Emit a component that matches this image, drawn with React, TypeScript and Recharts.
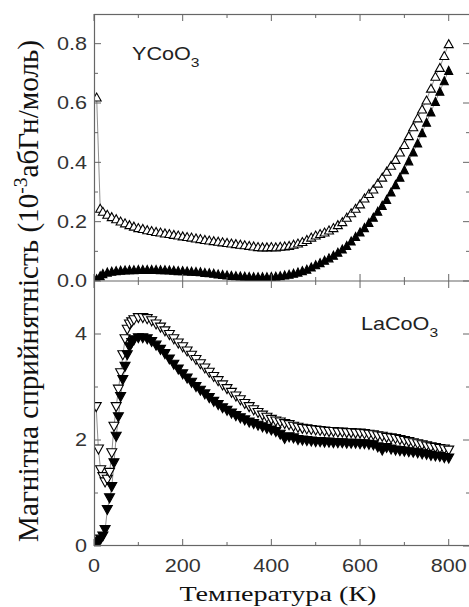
import React from 'react';
import { LineChart, Line, XAxis, YAxis } from 'recharts';

// --- data ---
// YCoO3 (top panel)
const tempTop = [
  6, 14, 20, 30, 40, 50, 60, 70, 80, 90,
  100, 110, 120, 130, 140, 150, 160, 170, 180, 190,
  200, 210, 220, 230, 240, 250, 260, 270, 280, 290,
  300, 310, 320, 330, 340, 350, 360, 370, 380, 390,
  400, 410, 420, 430, 440, 450, 460, 470, 480, 490,
  500, 510, 520, 530, 540, 550, 560, 570, 580, 590,
  600, 610, 620, 630, 640, 650, 660, 670, 680, 690,
  700, 710, 720, 730, 740, 750, 760, 770, 780, 790,
  800,
];
const yHollow = [
  0.62, 0.245, 0.235, 0.225, 0.217, 0.21, 0.202, 0.196, 0.19, 0.185,
  0.18, 0.177, 0.173, 0.17, 0.167, 0.165, 0.162, 0.16, 0.157, 0.155,
  0.152, 0.15, 0.148, 0.145, 0.143, 0.14, 0.138, 0.136, 0.134, 0.132,
  0.13, 0.128, 0.126, 0.124, 0.122, 0.12, 0.118, 0.116, 0.115, 0.115,
  0.116, 0.115, 0.117, 0.118, 0.12, 0.124, 0.128, 0.133, 0.14, 0.148,
  0.155, 0.16, 0.165, 0.172, 0.18, 0.19, 0.2, 0.215, 0.23, 0.245,
  0.26, 0.28, 0.295, 0.31, 0.33, 0.35, 0.37, 0.39, 0.41, 0.435,
  0.46, 0.49, 0.52, 0.55, 0.58, 0.61, 0.65, 0.69, 0.72, 0.76,
  0.8,
];
const yFilled = [
  0.008, 0.018, 0.025, 0.03, 0.033, 0.035, 0.036, 0.037, 0.038, 0.038,
  0.039, 0.039, 0.039, 0.039, 0.039, 0.038, 0.038, 0.037, 0.036, 0.035,
  0.035, 0.034, 0.033, 0.032, 0.031, 0.029, 0.028, 0.026, 0.024, 0.022,
  0.02, 0.019, 0.018, 0.017, 0.016, 0.015, 0.014, 0.014, 0.014, 0.014,
  0.015, 0.016, 0.018, 0.02, 0.023, 0.026, 0.03, 0.035, 0.04, 0.047,
  0.055, 0.062, 0.07, 0.078, 0.087, 0.097, 0.108, 0.12, 0.135, 0.15,
  0.165, 0.18, 0.197, 0.215, 0.235, 0.255, 0.275, 0.3, 0.325, 0.35,
  0.375, 0.405, 0.435, 0.465, 0.5, 0.535, 0.57, 0.605, 0.64, 0.675,
  0.71,
];

// LaCoO3 (bottom panel)
const tempBottom = [
  5, 10, 15, 20, 25, 30, 35, 40, 45, 50, 55, 60, 65, 70, 75, 80, 85, 90,
  100, 110, 120, 130, 140, 150, 160, 170, 180, 190,
  200, 210, 220, 230, 240, 250, 260, 270, 280, 290,
  300, 310, 320, 330, 340, 350, 360, 370, 380, 390,
  400, 410, 420, 430, 440, 450, 460, 470, 480, 490,
  500, 510, 520, 530, 540, 550, 560, 570, 580, 590,
  600, 610, 620, 630, 640, 650, 660, 670, 680, 690,
  700, 710, 720, 730, 740, 750, 760, 770, 780, 790,
  800,
];
const laHollow = [
  2.62, 1.82, 1.43, 1.3, 1.2, 1.25, 1.38, 1.75, 2.25, 2.62, 2.95, 3.26, 3.6, 3.9, 4.08, 4.18, 4.22, 4.26,
  4.3, 4.3, 4.28, 4.24, 4.18, 4.12, 4.05, 3.98, 3.9, 3.82,
  3.75, 3.67, 3.59, 3.51, 3.43, 3.35, 3.27, 3.19, 3.11, 3.03,
  2.96, 2.89, 2.82, 2.75, 2.68, 2.62, 2.56, 2.51, 2.46, 2.42,
  2.38, 2.35, 2.33, 2.3, 2.28, 2.25, 2.23, 2.21, 2.2, 2.19,
  2.18, 2.17, 2.16, 2.15, 2.15, 2.14, 2.14, 2.13, 2.13, 2.12,
  2.12, 2.11, 2.1, 2.09, 2.07, 2.06, 2.04, 2.03, 2.02, 2.0,
  1.98, 1.96, 1.94, 1.92, 1.9, 1.88, 1.86, 1.85, 1.83, 1.82,
  1.8,
];
const laFilled = [
  0.05, 0.08, 0.12, 0.18, 0.3, 0.68, 0.9, 1.11, 1.56, 2.06, 2.43, 2.81, 3.13, 3.38, 3.6, 3.75, 3.83, 3.88,
  3.92, 3.92, 3.9, 3.85, 3.78, 3.7, 3.62, 3.52, 3.42, 3.33,
  3.24, 3.16, 3.08, 3.0, 2.93, 2.86, 2.79, 2.72, 2.66, 2.6,
  2.55, 2.5, 2.45, 2.41, 2.37, 2.33, 2.3, 2.27, 2.24, 2.21,
  2.18, 2.15, 2.1, 2.02, 2.05, 2.03, 2.0, 1.99, 1.98, 1.97,
  1.96, 1.96, 1.95, 1.95, 1.94, 1.94, 1.94, 1.93, 1.93, 1.93,
  1.92, 1.92, 1.91, 1.9, 1.86, 1.8, 1.85, 1.82, 1.8, 1.79,
  1.78, 1.77, 1.76, 1.75, 1.73, 1.72, 1.7, 1.69, 1.68, 1.66,
  1.65,
];

// ticks
const xTicks = [0, 100, 200, 300, 400, 500, 600, 700, 800];
const xMajor = [0, 200, 400, 600, 800];
const topYTicks = [0, 0.1, 0.2, 0.3, 0.4, 0.5, 0.6, 0.7, 0.8];
const topYMajor = [0, 0.2, 0.4, 0.6, 0.8];
const botYTicks = [0, 1, 2, 3, 4];
const botYMajor = [0, 2, 4];

const topRows = tempTop.map((t, i) => ({ t, hollow: yHollow[i], filled: yFilled[i] }));
const botRows = tempBottom.map((t, i) => ({ t, hollow: laHollow[i], filled: laFilled[i] }));

const X_MAX = 848;
const PLOT_W = 376;
const TOP_H = 267;
const BOT_H = 265;
const FRAME = '#666';
const SANS = 'Liberation Sans, Arial, sans-serif';
const SERIF = 'Liberation Serif, DejaVu Serif, serif';

// --- markers ---
const tri = (cx: number, cy: number, w: number, h: number, up: boolean) =>
  up
    ? `${cx},${cy - h / 2} ${cx - w / 2},${cy + h / 2} ${cx + w / 2},${cy + h / 2}`
    : `${cx},${cy + h / 2} ${cx - w / 2},${cy - h / 2} ${cx + w / 2},${cy - h / 2}`;

const marker = (w: number, h: number, up: boolean, filled: boolean, tag: string) => (p: any) => {
  if (p.cx == null || p.cy == null) return <g key={`${tag}-${p.index}`} />;
  return (
    <polygon
      key={`${tag}-${p.index}`}
      points={tri(p.cx, p.cy, w, h, up)}
      fill={filled ? '#000' : '#fff'}
      stroke="#000"
      strokeWidth={1.1}
    />
  );
};

// --- inward ticks (drawn on both opposite sides of the frame) ---
const fmtTop = (v: number) => v.toFixed(1);
const fmtBot = (v: number) => String(v);

const makeYTick = (majors: number[], fmt: (v: number) => string) => (props: any) => {
  const { x, y, payload } = props;
  const v = payload.value;
  const major = majors.includes(v);
  const len = major ? 7 : 4;
  return (
    <g>
      <line x1={x} x2={x + len} y1={y} y2={y} stroke={FRAME} />
      <line x1={x + PLOT_W} x2={x + PLOT_W - len} y1={y} y2={y} stroke={FRAME} />
      {major && (
        <text
          transform={`translate(${x - 7},${y}) scale(1.2,1)`}
          textAnchor="end"
          dominantBaseline="central"
          fontFamily={SANS}
          fontSize={18}
          fill="#333"
        >
          {fmt(v)}
        </text>
      )}
    </g>
  );
};

const makeXTick = (plotH: number, labels: boolean) => (props: any) => {
  const { x, y, payload } = props;
  const v = payload.value;
  const major = xMajor.includes(v);
  const len = major ? 7 : 4;
  return (
    <g>
      <line x1={x} x2={x} y1={y} y2={y - len} stroke={FRAME} />
      <line x1={x} x2={x} y1={y - plotH} y2={y - plotH + len} stroke={FRAME} />
      {labels && major && (
        <text
          transform={`translate(${x},${y + 20}) scale(1.2,1)`}
          textAnchor="middle"
          dominantBaseline="central"
          fontFamily={SANS}
          fontSize={18}
          fill="#333"
        >
          {v}
        </text>
      )}
    </g>
  );
};

const App: React.FC = () => {
  return (
    <div style={{ position: 'absolute', left: 0, top: 0, width: 469, height: 607, overflow: 'hidden', background: '#fff' }}>
      {/* LaCoO3 */}
      <div style={{ position: 'absolute', left: 0, top: 281 }}>
        <LineChart width={470} height={326} data={botRows} margin={{ top: 0, right: 0, bottom: 0, left: 0 }}>
          <XAxis
            type="number"
            dataKey="t"
            domain={[0, X_MAX]}
            ticks={xTicks}
            interval={0}
            height={61}
            tickSize={0}
            tickMargin={0}
            axisLine={false}
            tickLine={false}
            tick={makeXTick(BOT_H, true)}
            allowDataOverflow
          />
          <YAxis
            type="number"
            domain={[0, 5]}
            ticks={botYTicks}
            interval={0}
            width={94}
            tickSize={0}
            tickMargin={0}
            axisLine={false}
            tickLine={false}
            tick={makeYTick(botYMajor, fmtBot)}
            allowDataOverflow
          />
          <Line type="linear" dataKey="hollow" stroke="#444" strokeWidth={0.6} dot={marker(10, 9, false, false, 'lh')} activeDot={false} isAnimationActive={false} />
          <Line type="linear" dataKey="filled" stroke="#444" strokeWidth={0.6} dot={marker(10, 9, false, true, 'lf')} activeDot={false} isAnimationActive={false} />
        </LineChart>
      </div>

      {/* YCoO3 (svg runs 20px past the panel so the 0.0 label is not clipped) */}
      <div style={{ position: 'absolute', left: 0, top: 0 }}>
        <LineChart width={470} height={302} data={topRows} margin={{ top: 14, right: 0, bottom: 20, left: 0 }}>
          <XAxis
            type="number"
            dataKey="t"
            domain={[0, X_MAX]}
            ticks={xTicks}
            interval={0}
            height={1}
            tickSize={0}
            tickMargin={0}
            axisLine={false}
            tickLine={false}
            tick={makeXTick(TOP_H, false)}
            allowDataOverflow
          />
          <YAxis
            type="number"
            domain={[0, 0.9]}
            ticks={topYTicks}
            interval={0}
            width={94}
            tickSize={0}
            tickMargin={0}
            axisLine={false}
            tickLine={false}
            tick={makeYTick(topYMajor, fmtTop)}
            allowDataOverflow
          />
          <Line type="linear" dataKey="hollow" stroke="#444" strokeWidth={0.6} dot={marker(9, 8, true, false, 'yh')} activeDot={false} isAnimationActive={false} />
          <Line type="linear" dataKey="filled" stroke="#444" strokeWidth={0.6} dot={marker(8, 8, true, true, 'yf')} activeDot={false} isAnimationActive={false} />
        </LineChart>
      </div>

      {/* frame, panel labels and axis titles */}
      <svg width={469} height={607} style={{ position: 'absolute', left: 0, top: 0, pointerEvents: 'none' }}>
        <rect x={94.5} y={14.5} width={PLOT_W} height={531} fill="none" stroke={FRAME} strokeWidth={1.2} />
        <line x1={94.5} x2={470} y1={281} y2={281} stroke={FRAME} strokeWidth={1.2} />
        <text transform="translate(132,60) scale(1.2,1)" fontFamily={SANS} fontSize={18} fill="#222">
          YCoO<tspan dy={7} fontSize={13}>3</tspan>
        </text>
        <text transform="translate(361,330) scale(1.2,1)" fontFamily={SANS} fontSize={18} fill="#222">
          LaCoO<tspan dy={7} fontSize={13}>3</tspan>
        </text>
        <text
          transform="translate(38,291) scale(1.2,1) rotate(-90)"
          textAnchor="middle"
          fontFamily={SERIF}
          fontSize={24}
          fill="#111"
          textLength={502}
          lengthAdjust="spacingAndGlyphs"
        >
          Магнітна сприйнятність (10<tspan dy={-9} fontSize={16}>-3</tspan><tspan dy={9}>абГн/моль)</tspan>
        </text>
        <text
          x={278}
          y={601}
          textAnchor="middle"
          fontFamily={SERIF}
          fontSize={21}
          fill="#111"
          textLength={197}
          lengthAdjust="spacingAndGlyphs"
        >
          Температура (К)
        </text>
      </svg>
    </div>
  );
};

export default App;
